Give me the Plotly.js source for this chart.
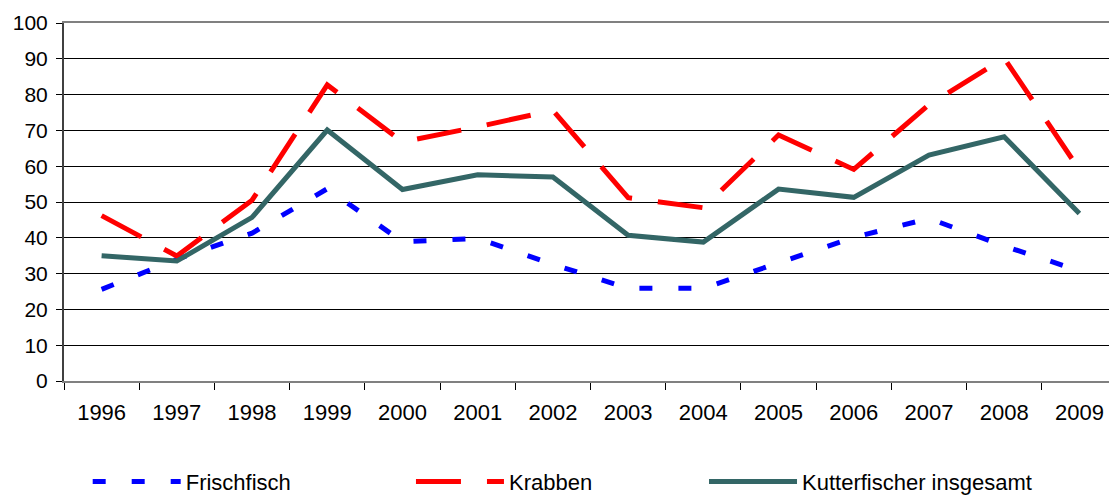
<!DOCTYPE html>
<html>
<head>
<meta charset="utf-8">
<script src="https://cdn.plot.ly/plotly-3.0.1.min.js"></script>
<style>
html, body { margin: 0; padding: 0; overflow: hidden; background: #fff; }
#chart { width: 1120px; height: 510px; }
</style>
</head>
<body>
<div id="chart"></div>
<script>
const years = ['1996','1997','1998','1999','2000','2001','2002','2003','2004','2005','2006','2007','2008','2009'];
const frischfisch = [25.6, 34.0, 41.3, 53.7, 38.9, 39.8, 32.6, 25.9, 25.9, 33.0, 40.1, 45.4, 37.7, 30.8];
const krabben = [46.2, 34.9, 50.5, 82.7, 66.8, 71.0, 75.6, 51.2, 48.4, 68.7, 59.1, 77.2, 90.2, 59.0];
const kutter = [35.0, 33.5, 45.7, 70.1, 53.5, 57.6, 57.0, 40.7, 38.8, 53.6, 51.3, 63.1, 68.2, 46.8];
const seriesNames = ['Frischfisch', 'Krabben', 'Kutterfischer insgesamt'];

const traces = [
  { x: years, y: frischfisch, name: seriesNames[0], type: 'scatter', mode: 'lines', legend: 'legend',
    line: { color: '#0000FF', width: 5, dash: '13px,26px' } },
  { x: years, y: krabben, name: seriesNames[1], type: 'scatter', mode: 'lines', legend: 'legend2',
    line: { color: '#FF0000', width: 5, dash: '45px,26px' } },
  { x: years, y: kutter, name: seriesNames[2], type: 'scatter', mode: 'lines', legend: 'legend3',
    line: { color: '#336666', width: 5 } }
];

function legendAt(xFrac) {
  return {
    orientation: 'h', x: xFrac, xanchor: 'left', y: -0.2816, yanchor: 'middle',
    itemwidth: 88, font: { size: 22, color: '#000' }, bgcolor: 'rgba(0,0,0,0)'
  };
}

const layout = {
  width: 1120, height: 510,
  margin: { l: 64, r: 3, t: 23, b: 129 },
  paper_bgcolor: '#fff', plot_bgcolor: '#fff',
  font: { family: '"Liberation Sans", Arial, sans-serif', size: 21, color: '#000' },
  showlegend: true,
  legend: legendAt(0.0225),
  legend2: legendAt(0.3295),
  legend3: legendAt(0.6078),
  xaxis: {
    type: 'category', range: [-0.5, 13.5], tickson: 'boundaries', ticks: 'outside', ticklen: 7, tickwidth: 1, tickcolor: '#000',
    showline: true, linecolor: '#808080', linewidth: 2, mirror: true,
    showgrid: false, zeroline: false, ticklabelstandoff: 11,
    tickfont: { size: 22 }, fixedrange: true
  },
  yaxis: {
    range: [0, 100], tick0: 0, dtick: 10, ticks: 'outside', ticklen: 6, tickwidth: 1, tickcolor: '#000',
    showline: true, linecolor: '#404040', linewidth: 2,
    showgrid: true, gridcolor: '#000', gridwidth: 1, zeroline: false,
    tickfont: { size: 21 }, ticklabelstandoff: 4, fixedrange: true
  }
};

Plotly.newPlot('chart', traces, layout, { displayModeBar: false, staticPlot: true });
</script>
</body>
</html>
